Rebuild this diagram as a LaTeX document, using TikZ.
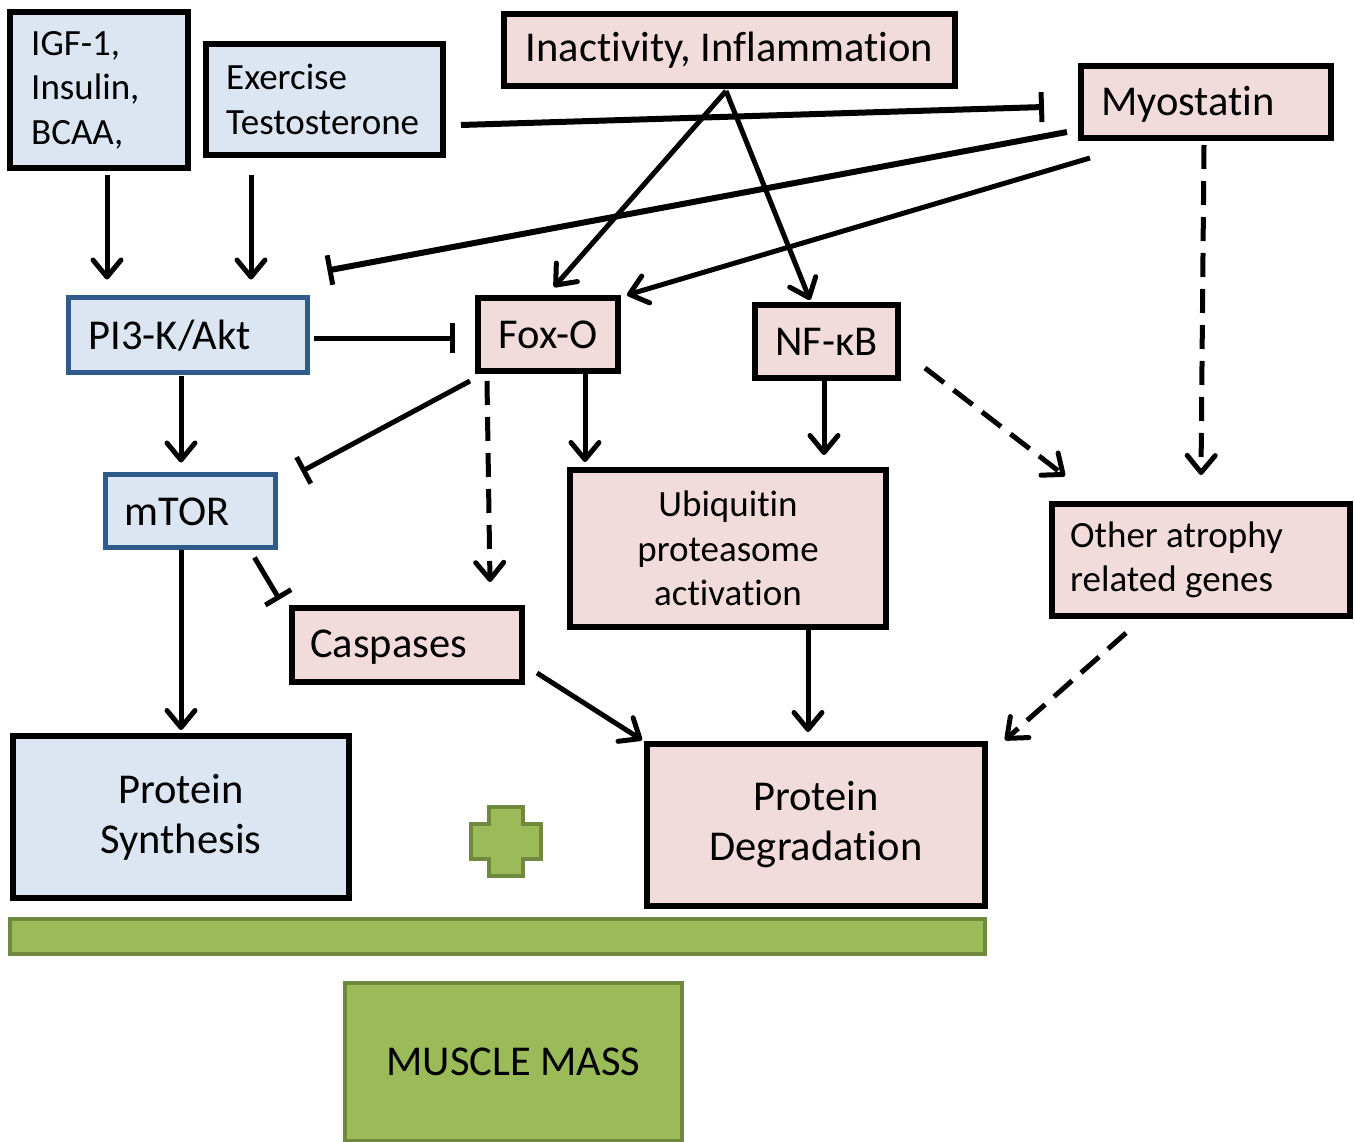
\documentclass[tikz,border=0pt]{standalone}
\usepackage{fontspec}
\setmainfont{Carlito}[Ligatures=NoCommon]
\usetikzlibrary{arrows.meta,calc}
\definecolor{bluefill}{HTML}{DCE6F2}
\definecolor{pinkfill}{HTML}{F2DCDB}
\definecolor{blueline}{HTML}{2F5A8C}
\definecolor{greenfill}{HTML}{9BBB59}
\definecolor{greenline}{HTML}{71893F}
\tikzset{
  box/.style={rectangle, draw=black, line width=6pt, inner sep=0pt, align=center},
  bluebox/.style={box, fill=bluefill},
  pinkbox/.style={box, fill=pinkfill},
  blueedge/.style={rectangle, draw=blueline, line width=5pt, fill=bluefill, inner sep=0pt},
  greenbox/.style={rectangle, draw=greenline, line width=4pt, fill=greenfill, inner sep=0pt},
  small/.style={font=\fontsize{37}{44.5}\selectfont},
  big/.style={font=\fontsize{42.5}{50}\selectfont},
  lefttext/.style={anchor=west, inner sep=0pt, align=left},
  arr/.style={line width=5pt, -{Straight Barb[length=17pt,width=28pt,line width=5pt,round]}},
  inh/.style={line width=5pt, -{Bar[width=30pt,line width=5pt]}},
  inhthick/.style={line width=6pt, -{Bar[width=30pt,line width=5pt]}},
  dasharr/.style={arr, dash pattern=on 24pt off 12pt},
}
\begin{document}
\begin{tikzpicture}[x=1pt,y=-1pt]
\useasboundingbox (0,0) rectangle (1355,1142);
\fill[white] (0,0) rectangle (1355,1142);
\begin{scope}
\clip (0,0) rectangle (1355,1142);
% boxes
\node[bluebox, minimum width=178, minimum height=156] (igf) at (99,90) {};
\node[small, lefttext] (igft) at ($(igf.west)+(24,0)$) {IGF-1,\\Insulin,\\BCAA,};
\node[bluebox, minimum width=237, minimum height=111] (exer) at (324.5,99.5) {};
\node[small, lefttext] (exert) at ($(exer.west)+(23,0)$) {Exercise\\Testosterone};
\node[pinkbox, big, minimum width=451, minimum height=72] (inact) at (729.5,50) {Inactivity, Inflammation};
\node[pinkbox, minimum width=250, minimum height=72] (myo) at (1206,102) {};
\node[big, lefttext] (myot) at ($(myo.west)+(23,2)$) {Myostatin};
\node[blueedge, minimum width=239, minimum height=75] (pi3k) at (187.5,334.5) {};
\node[big, lefttext] (pi3kt) at ($(pi3k.west)+(23,1)$) {PI3-K/Akt};
\node[pinkbox, big, minimum width=140, minimum height=73] (foxo) at (548,334.5) {Fox-O};
\node[pinkbox, big, minimum width=143, minimum height=73] (nfkb) at (826.5,341.5) {NF-κB};
\node[blueedge, minimum width=170, minimum height=73] (mtor) at (190,510.5) {};
\node[big, lefttext] (mtort) at ($(mtor.west)+(22,1)$) {mTOR};
\node[pinkbox, minimum width=230, minimum height=74] (casp) at (407,645) {};
\node[big, lefttext] (caspt) at ($(casp.west)+(21,2)$) {Caspases};
\node[pinkbox, small, minimum width=316, minimum height=157] (ubi) at (728,548.5) {Ubiquitin\\proteasome\\activation};
\node[pinkbox, minimum width=298, minimum height=112] (other) at (1201,560) {};
\node[small, lefttext] (othert) at ($(other.west)+(21,0)$) {Other atrophy\\related genes};
\node[bluebox, big, minimum width=336, minimum height=162] (synth) at (181,817) {Protein\\Synthesis};
\node[pinkbox, big, minimum width=338, minimum height=162] (degr) at (816,825) {Protein\\Degradation};
\node[greenbox, minimum width=975, minimum height=35] (bar) at (497.5,936.5) {};
\node[greenbox, big, minimum width=337, minimum height=158] (mass) at (513.5,1062) {MUSCLE MASS};
\end{scope}
% plus sign
\draw[greenline, fill=greenfill, line width=3.5pt]
  (489,807) -- (523,807) -- (523,824) -- (541,824) -- (541,859) -- (523,859) -- (523,876)
  -- (489,876) -- (489,859) -- (471,859) -- (471,824) -- (489,824) -- cycle;
% connectors
\draw[arr] ($(igf.south)+(8,4)$) -- ($(pi3k.north)+(-80.5,-15)$);
\draw[arr] ($(exer.south)+(-73.5,17)$) -- ($(pi3k.north)+(63.5,-15)$);
\draw[inhthick] ($(exer.east)+(15,25.5)$) -- ($(myo.west)+(-34,5)$);
\draw[arr] ($(inact.south)+(-3.5,2)$) -- ($(foxo.north)+(6,-8)$);
\draw[arr] ($(inact.south)+(-3.5,2)$) -- ($(nfkb.north)+(-16.5,-2)$);
\draw[inhthick] ($(myo.west)+(-11,30)$) -- ($(pi3k.north east)+(18,-24)$);
\draw[arr] ($(myo.south west)+(12,17)$) -- ($(foxo.north east)+(6,0)$);
\draw[dasharr] ($(myo.south)+(-2,4)$) -- ($(other.north)+(0,-26)$);
\draw[inh] ($(pi3k.east)+(4,3.5)$) -- ($(foxo.west)+(-20,3.5)$);
\draw[arr] ($(pi3k.south)+(-6.5,1)$) -- ($(mtor.north)+(-9,-9)$);
\draw[inh] ($(foxo.south west)+(-5,7)$) -- ($(mtor.north east)+(24,0)$);
\draw[dasharr] ($(foxo.south west)+(12,7)$) -- ($(casp.north)+(83,-23)$);
\draw[arr] ($(foxo.south)+(37,0)$) -- ($(ubi.north)+(-143,-5)$);
\draw[arr] ($(nfkb.south)+(-2.5,0)$) -- ($(ubi.north)+(96,-12)$);
\draw[dasharr] ($(nfkb.east)+(24,26.5)$) -- ($(other.north west)+(16,-25)$);
\draw[inh] ($(mtor.south east)+(-23,8)$) -- ($(casp.north west)+(-9.5,-5.5)$);
\draw[arr] ($(mtor.south)+(-9,0)$) -- ($(synth.north)+(0,-3)$);
\draw[arr] ($(casp.east)+(12,28)$) -- ($(degr.north west)+(-2,-1)$);
\draw[arr] ($(ubi.south)+(80,0)$) -- ($(degr.north)+(-8,-9)$);
\draw[dasharr] ($(other.south)+(-75,14)$) -- ($(degr.north east)+(17,-1)$);
\end{tikzpicture}
\end{document}
